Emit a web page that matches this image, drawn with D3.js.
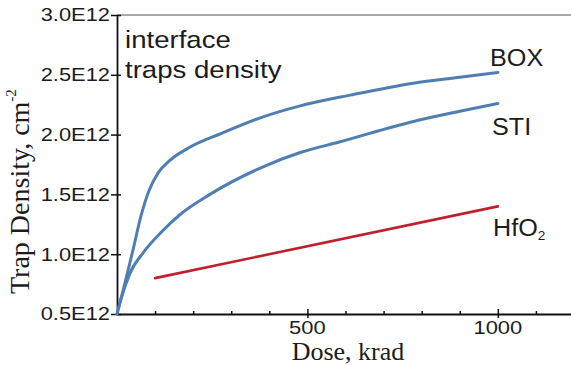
<!DOCTYPE html>
<html>
<head>
<meta charset="utf-8">
<script src="https://cdn.jsdelivr.net/npm/d3@7"></script>
<style>
  html, body { margin: 0; padding: 0; background: #fff; }
  svg { display: block; }
</style>
</head>
<body>
<script>
// ---- data (dose in krad, density in units of 1E12 cm^-2) ----
const boxDose    = [0, 21, 42, 63, 84, 108, 139, 192, 270, 376, 481, 612, 778, 900, 1000];
const boxDensity = [0.5, 0.76, 1.035, 1.32, 1.53, 1.68, 1.785, 1.896, 2.005, 2.14, 2.24, 2.33, 2.43, 2.48, 2.52];
const stiDose    = [0, 10, 34, 68, 118, 165, 244, 376, 481, 586, 778, 900, 1000];
const stiDensity = [0.5, 0.62, 0.84, 1.01, 1.19, 1.33, 1.50, 1.72, 1.85, 1.94, 2.11, 2.195, 2.26];
const hfDose     = [100, 1000];
const hfDensity  = [0.80, 1.40];
const xMajorTicks = [500, 1000];
const xMinorTicks = [100, 200, 300, 400, 600, 700, 800, 900, 1100];
const yTicks      = [0.5, 1.0, 1.5, 2.0, 2.5, 3.0];
const yTickLabels = ["0.5E12", "1.0E12", "1.5E12", "2.0E12", "2.5E12", "3.0E12"];
const seriesNames = ["BOX", "STI", "HfO"];

const W = 571, H = 365;
const svg = d3.select("body").append("svg").attr("width", W).attr("height", H);

const x = d3.scaleLinear().domain([0, 1200]).range([117, 574]);
const y = d3.scaleLinear().domain([0.5, 3.0]).range([314, 15]);

const sans = "'Liberation Sans', Arial, sans-serif";
const serif = "'Liberation Serif', 'Times New Roman', serif";
const txt = "#1c1c1c";

// top frame line
svg.append("line").attr("x1", x(0)).attr("x2", W).attr("y1", y(3.0)).attr("y2", y(3.0))
  .attr("stroke", "#8a8a8a").attr("stroke-width", 1.5);

// y axis
const yAxis = d3.axisLeft(y).tickValues(yTicks).tickSizeInner(6).tickSizeOuter(0).tickFormat("");
const gy = svg.append("g").attr("transform", `translate(${x(0)},0)`).call(yAxis);
gy.select(".domain").attr("stroke", "#111").attr("stroke-width", 1.8);
gy.selectAll(".tick line").attr("x2", -6).attr("x1", 4).attr("stroke", "#111").attr("stroke-width", 1.5);
yTicks.forEach((v, i) => {
  svg.append("text")
    .attr("transform", `translate(110,${y(v)}) scale(1.25,1)`)
    .attr("text-anchor", "end").attr("dy", "0.36em")
    .attr("font-family", sans).attr("font-size", 17.5).attr("fill", txt)
    .text(yTickLabels[i]);
});

// x axis
const xAxis = d3.axisBottom(x).tickValues(xMajorTicks).tickSizeOuter(0).tickFormat("");
const gx = svg.append("g").attr("transform", `translate(0,${y(0.5)})`).call(xAxis);
gx.select(".domain").attr("stroke", "#111").attr("stroke-width", 1.8);
gx.selectAll(".tick line").attr("y1", -5).attr("y2", 4).attr("stroke", "#111").attr("stroke-width", 1.5);
const xMinorAxis = d3.axisBottom(x).tickValues(xMinorTicks).tickSizeOuter(0).tickFormat("");
const gxm = svg.append("g").attr("transform", `translate(0,${y(0.5)})`).call(xMinorAxis);
gxm.select(".domain").remove();
gxm.selectAll(".tick line").attr("y1", -3).attr("y2", 0).attr("stroke", "#111").attr("stroke-width", 1.5);
xMajorTicks.forEach(v => {
  svg.append("text")
    .attr("transform", `translate(${x(v)},334) scale(1.22,1)`)
    .attr("text-anchor", "middle")
    .attr("font-family", sans).attr("font-size", 18).attr("fill", txt)
    .text(v);
});

// axis titles
svg.append("text").attr("x", 348).attr("y", 360).attr("text-anchor", "middle")
  .attr("font-family", serif).attr("font-size", 26).attr("fill", txt).text("Dose, krad");
const yt = svg.append("text").attr("transform", "translate(29,294) rotate(-90)")
  .attr("font-family", serif).attr("font-size", 28).attr("fill", txt);
yt.append("tspan").text("Trap Density, cm");
yt.append("tspan").attr("font-size", 15).attr("dy", -13).text("-2");

// curves
const line = d3.line().x(d => x(d[0])).y(d => y(d[1])).curve(d3.curveMonotoneX);
const boxData = d3.zip(boxDose, boxDensity);
const stiData = d3.zip(stiDose, stiDensity);
const hfData  = d3.zip(hfDose, hfDensity);
svg.append("path").datum(stiData).attr("d", line).attr("fill", "none")
  .attr("stroke", "#4f7fb1").attr("stroke-width", 3).attr("stroke-linecap", "round");
svg.append("path").datum(boxData).attr("d", line).attr("fill", "none")
  .attr("stroke", "#4f7fb1").attr("stroke-width", 3).attr("stroke-linecap", "round");
svg.append("path").datum(hfData).attr("d", line).attr("fill", "none")
  .attr("stroke", "#c0202c").attr("stroke-width", 2.6).attr("stroke-linecap", "round");

// annotation text
const ann = svg.append("g").attr("font-family", sans).attr("fill", txt);
ann.append("text").attr("transform", "translate(125,48) scale(1.15,1)").attr("font-size", 24).text("interface");
ann.append("text").attr("transform", "translate(125,78) scale(1.15,1)").attr("font-size", 24).text("traps density");

// series labels
ann.append("text").attr("transform", "translate(490,66) scale(1.05,1)").attr("font-size", 24).text(seriesNames[0]);
ann.append("text").attr("transform", "translate(492,135) scale(1.05,1)").attr("font-size", 24).text(seriesNames[1]);
const hf = ann.append("text").attr("transform", "translate(493,236) scale(1.05,1)").attr("font-size", 24);
hf.append("tspan").text(seriesNames[2]);
hf.append("tspan").attr("font-size", 13).attr("dy", 4).text("2");
</script>
</body>
</html>
